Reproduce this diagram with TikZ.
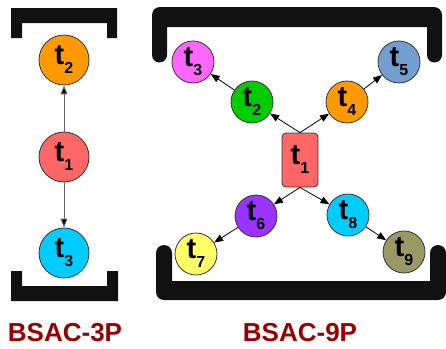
\documentclass[tikz,border=0pt]{standalone}
\usepackage{fontspec}
\setmainfont{Liberation Sans}
\usetikzlibrary{arrows.meta}
\definecolor{bk}{HTML}{111111}
\definecolor{lbl}{HTML}{990000}
\definecolor{cRed}{HTML}{FF6666}
\definecolor{cOrange}{HTML}{FF9900}
\definecolor{cCyan}{HTML}{00CCFF}
\definecolor{cMagenta}{HTML}{FF66FF}
\definecolor{cGreen}{HTML}{00CC00}
\definecolor{cBlue}{HTML}{729FCF}
\definecolor{cPurple}{HTML}{9933FF}
\definecolor{cYellow}{HTML}{FFFF66}
\definecolor{cOlive}{HTML}{999966}
\newcommand{\tl}[1]{\bfseries t\raisebox{-9pt}{\fontsize{16}{16}\selectfont #1}}
\tikzset{
  bigc/.style={circle, draw=black!80, line width=0.8pt, minimum size=50pt, inner sep=0pt, font=\fontsize{29}{29}\selectfont},
  smallc/.style={circle, draw=black!80, line width=0.8pt, minimum size=42pt, inner sep=0pt, font=\fontsize{29}{29}\selectfont},
  recnode/.style={rectangle, rounded corners=4pt, draw=black!80, line width=0.8pt, minimum width=36pt, minimum height=54pt, inner sep=0pt, font=\fontsize{29}{29}\selectfont},
  grayarr/.style={draw=black!60, line width=1pt, -{Triangle[length=9pt,width=7pt,fill=black]}},
  blkarr/.style={draw=black, line width=0.8pt, -{Triangle[length=9pt,width=7pt]}},
  title/.style={text=lbl, font=\bfseries\fontsize{26}{26}\selectfont, inner sep=0pt}
}
\begin{document}
\begin{tikzpicture}[x=1pt,y=-1pt]
\useasboundingbox (0,0) rectangle (446,348);
% left brackets
\fill[bk] (11,38) -- (11,8) -- (117,8) -- (117,38) -- (107,38) -- (107,23) -- (22,23) -- (22,38) -- cycle;
\fill[bk] (11,271) -- (11,301) -- (118,301) -- (118,271) -- (107,271) -- (107,286) -- (22,286) -- (22,271) -- cycle;
% right brackets
\fill[bk] (152,55) -- (152,15) arc(180:270:8) -- (434,7) arc(270:360:8) -- (442,55) arc(0:180:7.5) -- (427,27) -- (167,27) -- (167,55) arc(0:180:7.5) -- cycle;
\fill[bk] (156,253) -- (156,292) arc(180:90:8) -- (438,300) arc(90:0:8) -- (446,253) arc(0:-180:8) -- (430,281) -- (172,281) -- (172,253) arc(0:-180:8) -- cycle;
% left graph
\node[bigc, fill=cOrange] (L2) at (64,60) {\tl{2}};
\node[bigc, fill=cRed] (L1) at (64,157) {\tl{1}};
\node[bigc, fill=cCyan] (L3) at (64,253) {\tl{3}};
\draw[grayarr] (L1) -- (L2);
\draw[grayarr] (L1) -- (L3);
% right graph
\node[recnode, fill=cRed] (R1) at (300,160) {\tl{1}};
\node[smallc, fill=cGreen] (R2) at (252,102) {\tl{2}};
\node[smallc, fill=cMagenta] (R3) at (193,62) {\tl{3}};
\node[smallc, fill=cOrange] (R4) at (347,102) {\tl{4}};
\node[smallc, fill=cBlue] (R5) at (399,62) {\tl{5}};
\node[smallc, fill=cPurple] (R6) at (256,216) {\tl{6}};
\node[smallc, fill=cYellow] (R7) at (196,254) {\tl{7}};
\node[smallc, fill=cCyan] (R8) at (348,215) {\tl{8}};
\node[smallc, fill=cOlive] (R9) at (404,252) {\tl{9}};
\draw[blkarr] (R1.north) -- (R2);
\draw[blkarr] (R1.north) -- (R4);
\draw[blkarr] (R2) -- (R3);
\draw[blkarr] (R4) -- (R5);
\draw[blkarr] (R1.south) -- (R6);
\draw[blkarr] (R1.south) -- (R8);
\draw[blkarr] (R6) -- (R7);
\draw[blkarr] (R8) -- (R9);
% titles
\node[title] (T1) at (65,333) {BSAC-3P};
\node[title] (T2) at (300,333) {BSAC-9P};
\end{tikzpicture}
\end{document}
